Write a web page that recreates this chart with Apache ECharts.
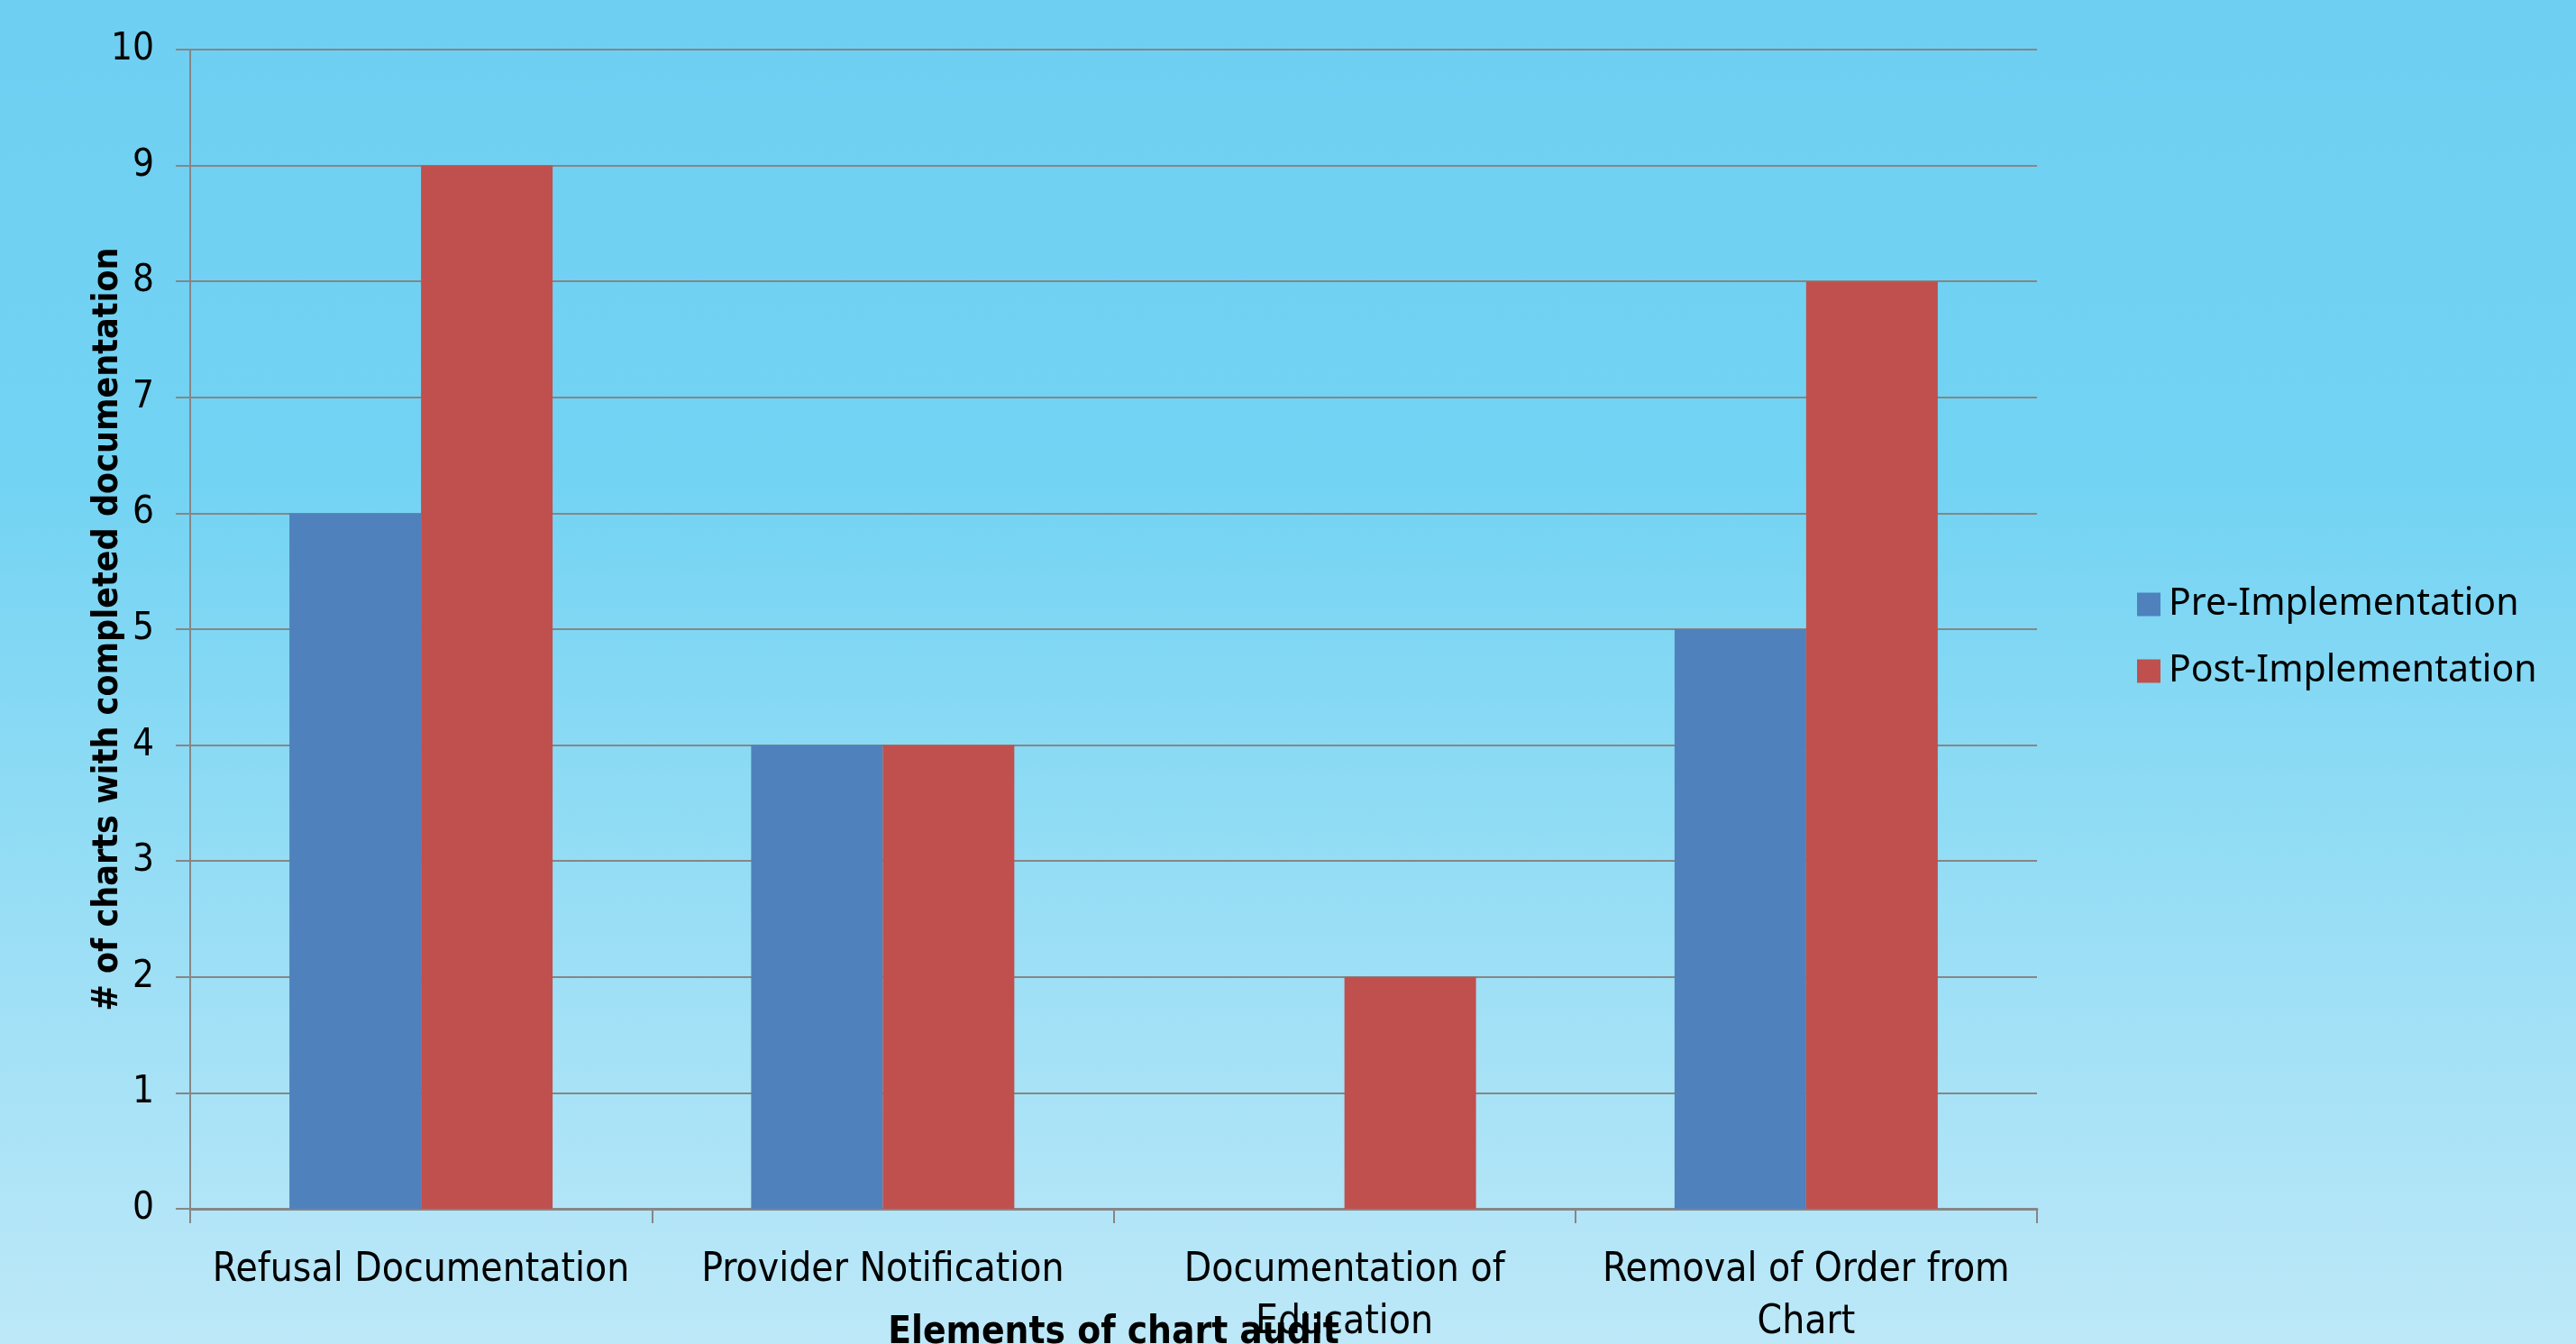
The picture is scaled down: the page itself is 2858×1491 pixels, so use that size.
<!DOCTYPE html>
<html>
<head>
<meta charset="utf-8">
<script src="https://cdn.jsdelivr.net/npm/echarts@6/dist/echarts.min.js"></script>
<style>
html,body{margin:0;padding:0;width:2858px;height:1491px;overflow:hidden;}
body{background:linear-gradient(180deg,#6fcff2 0%,#72d3f3 35%,#95ddf5 65%,#bde8f8 100%);}
#c{width:2858px;height:1491px;}
</style>
</head>
<body>
<div id="c"></div>
<script>
const categories = ['Refusal Documentation', 'Provider Notification', 'Documentation of\nEducation', 'Removal of Order from\nChart'];
const seriesNames = ['Pre-Implementation', 'Post-Implementation'];
const preValues = [6, 4, 0, 5];
const postValues = [9, 4, 2, 8];
const yTicks = { min: 0, max: 10, interval: 1 };

const condensed = '"Liberation Sans Narrow","DejaVu Sans Condensed","Roboto Condensed",sans-serif';
const chart = echarts.init(document.getElementById('c'), null, { renderer: 'canvas' });
chart.setOption({
  backgroundColor: 'transparent',
  animation: false,
  color: ['#4f81bd', '#c0504d'],
  grid: { left: 211, right: 598, top: 55, bottom: 150, containLabel: false, outerBoundsMode: 'none' },
  legend: {
    orient: 'vertical',
    left: 2366,
    top: 645,
    itemWidth: 26,
    itemHeight: 26,
    itemGap: 33,
    icon: 'rect',
    textStyle: { fontFamily: '"Noto Sans","Open Sans",sans-serif', fontSize: 41, color: '#000', padding: [0, 0, 0, 4] },
    data: seriesNames
  },
  xAxis: {
    type: 'category',
    data: categories,
    name: 'Elements of chart audit',
    nameLocation: 'middle',
    nameGap: 117,
    nameMoveOverlap: false,
    nameTextStyle: { fontFamily: condensed, fontWeight: 'bold', fontSize: 42, color: '#000' },
    axisLine: { lineStyle: { color: '#868686', width: 3 } },
    axisTick: { show: true, length: 16, lineStyle: { color: '#868686', width: 2 } },
    axisLabel: { fontFamily: condensed, fontSize: 44, color: '#000', margin: 40, lineHeight: 58, interval: 0 },
    boundaryGap: true
  },
  yAxis: {
    type: 'value',
    min: yTicks.min,
    max: yTicks.max,
    interval: yTicks.interval,
    name: '# of charts with completed documentation',
    nameLocation: 'middle',
    nameGap: 72,
    nameMoveOverlap: false,
    nameTextStyle: { fontFamily: condensed, fontWeight: 'bold', fontSize: 39, color: '#000' },
    axisLine: { show: true, lineStyle: { color: '#868686', width: 2 } },
    axisTick: { show: true, length: 16, lineStyle: { color: '#868686', width: 2 } },
    axisLabel: { fontFamily: condensed, fontSize: 42, color: '#000', margin: 40 },
    splitLine: { show: true, lineStyle: { color: '#868686', width: 2 } }
  },
  series: [
    { name: seriesNames[0], type: 'bar', data: preValues, barGap: '0%', barCategoryGap: '43%' },
    { name: seriesNames[1], type: 'bar', data: postValues, barGap: '0%', barCategoryGap: '43%' }
  ]
});
</script>
</body>
</html>
